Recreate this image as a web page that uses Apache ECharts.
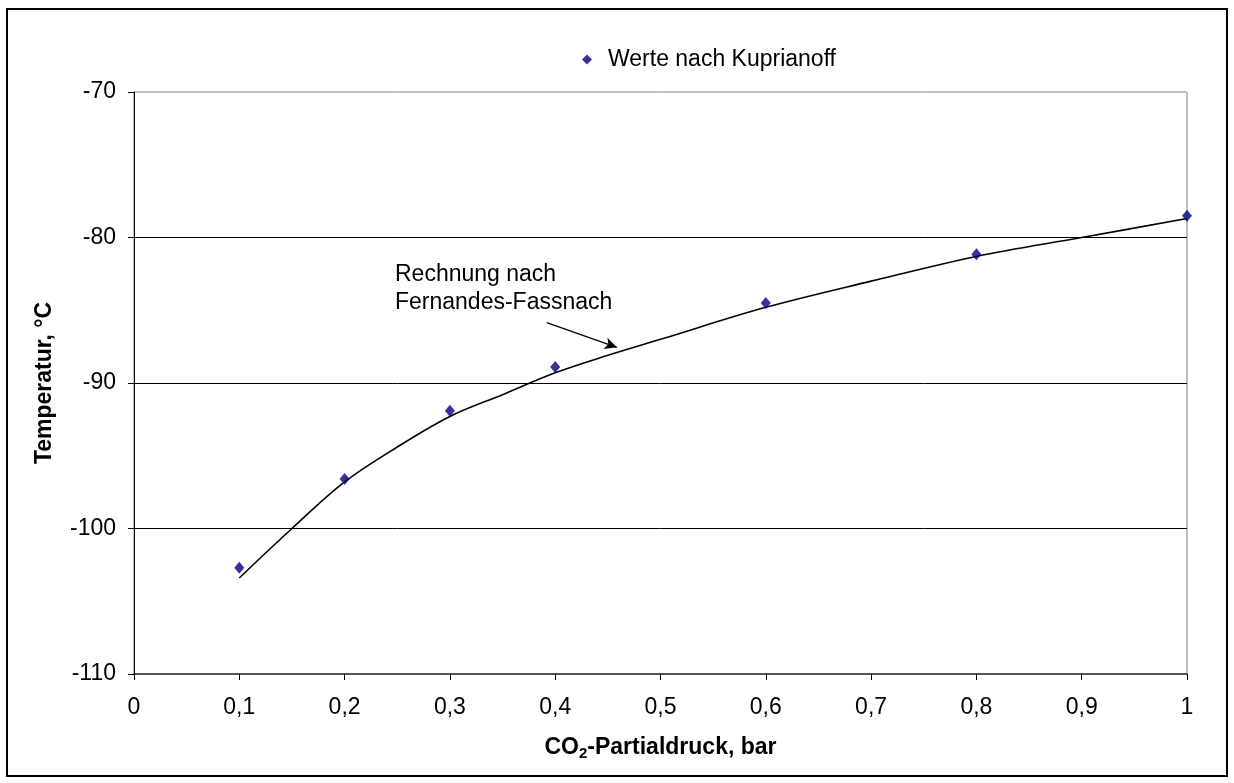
<!DOCTYPE html>
<html>
<head>
<meta charset="utf-8">
<script src="https://cdn.jsdelivr.net/npm/echarts@6/dist/echarts.min.js"></script>
<style>
html,body{margin:0;padding:0;background:#fff;}
#chart{width:1234px;height:783px;}
</style>
</head>
<body>
<div id="chart"></div>
<script>
// Measured values (Kuprianoff)
const kupX = [0.1, 0.2, 0.3, 0.4, 0.6, 0.8, 1.0];
const kupY = [-102.7, -96.6, -91.9, -88.9, -84.5, -81.15, -78.5];
// Calculated curve (Fernandes-Fassnach)
const calcX = [0.1, 0.15, 0.2, 0.25, 0.3, 0.35, 0.4, 0.45, 0.5, 0.6, 0.7, 0.8, 0.9, 1.0];
const calcY = [-103.4, -100.0, -96.8, -94.4, -92.3, -90.8, -89.3, -88.1, -87.0, -84.8, -83.0, -81.3, -80.0, -78.7];
// Axis ticks
const xTicks = [0, 0.1, 0.2, 0.3, 0.4, 0.5, 0.6, 0.7, 0.8, 0.9, 1];
const yTicks = [-110, -100, -90, -80, -70];
// Annotation arrow (data coordinates)
const arrowFrom = [0.392, -85.85];
const arrowTo = [0.4585, -87.55];

const FONT = '"Liberation Sans", Arial, sans-serif';
const FS = 23;
const chart = echarts.init(document.getElementById('chart'));
const kupData = kupX.map((x, i) => [x, kupY[i]]);
const calcData = calcX.map((x, i) => [x, calcY[i]]);

chart.setOption({
  animation: false,
  backgroundColor: '#fff',
  textStyle: { fontFamily: FONT },
  grid: {
    left: 134, right: 47, top: 92, bottom: 109,
    show: true, borderColor: '#808080', borderWidth: 1, backgroundColor: 'transparent'
  },
  legend: {
    top: 43, left: 577,
    data: [{ name: 'Werte nach Kuprianoff', icon: 'diamond' }],
    itemWidth: 10, itemHeight: 10, itemGap: 8,
    textStyle: { fontFamily: FONT, fontSize: FS, color: '#000', padding: [0, 0, 0, 11] }
  },
  xAxis: {
    type: 'value', min: xTicks[0], max: xTicks[xTicks.length - 1], interval: 0.1,
    name: '{b|CO}{s|2}{b|-Partialdruck, bar}',
    nameLocation: 'middle', nameGap: 60,
    nameTextStyle: {
      rich: {
        b: { fontFamily: FONT, fontSize: FS, fontWeight: 'bold', color: '#000' },
        s: { fontFamily: FONT, fontSize: 15, fontWeight: 'bold', color: '#000', verticalAlign: 'bottom', padding: [12, 0, 0, 0] }
      }
    },
    axisLine: { lineStyle: { color: '#333', width: 1.5 } },
    axisTick: { show: true, inside: false, length: 6, lineStyle: { color: '#000' } },
    axisLabel: {
      margin: 22, fontFamily: FONT, fontSize: FS, color: '#000',
      formatter: v => String(Math.round(v * 10) / 10).replace('.', ',')
    },
    splitLine: { show: false }
  },
  yAxis: {
    type: 'value', min: yTicks[0], max: yTicks[yTicks.length - 1], interval: 10,
    name: 'Temperatur, °C',
    nameLocation: 'middle', nameGap: 78,
    nameTextStyle: { fontFamily: FONT, fontSize: FS, fontWeight: 'bold', color: '#000' },
    axisLine: { show: true, lineStyle: { color: '#000', width: 1 } },
    axisTick: { show: true, inside: false, length: 6, lineStyle: { color: '#000' } },
    axisLabel: { margin: 18, fontFamily: FONT, fontSize: FS, color: '#000' },
    splitLine: { show: true, showMinLine: false, showMaxLine: false, lineStyle: { color: '#000', width: 1 } }
  },
  series: [
    {
      name: 'Rechnung nach Fernandes-Fassnach',
      type: 'line', data: calcData, smooth: 0.35, showSymbol: false, symbol: 'none',
      lineStyle: { color: '#000', width: 1.6 }, z: 2,
      markLine: {
        silent: true, symbol: ['none', 'arrow'], symbolSize: [9, 12],
        label: { show: false },
        lineStyle: { color: '#000', width: 1.3, type: 'solid' },
        data: [[{ coord: arrowFrom }, { coord: arrowTo }]]
      }
    },
    {
      name: 'Werte nach Kuprianoff',
      type: 'scatter', data: kupData, symbol: 'diamond', symbolSize: [10, 12],
      itemStyle: { color: '#000080' }, z: 3, clip: false
    }
  ],
  graphic: [
    {
      type: 'rect', silent: true, z: 100,
      shape: { x: 7, y: 9, width: 1220, height: 767 },
      style: { fill: 'none', stroke: '#000', lineWidth: 2 }
    },
    {
      type: 'text', left: 395, top: 261, z: 10,
      style: { text: 'Rechnung nach\nFernandes-Fassnach', font: FS + 'px ' + FONT, fill: '#000', lineHeight: 28 }
    }
  ]
});
</script>
</body>
</html>
